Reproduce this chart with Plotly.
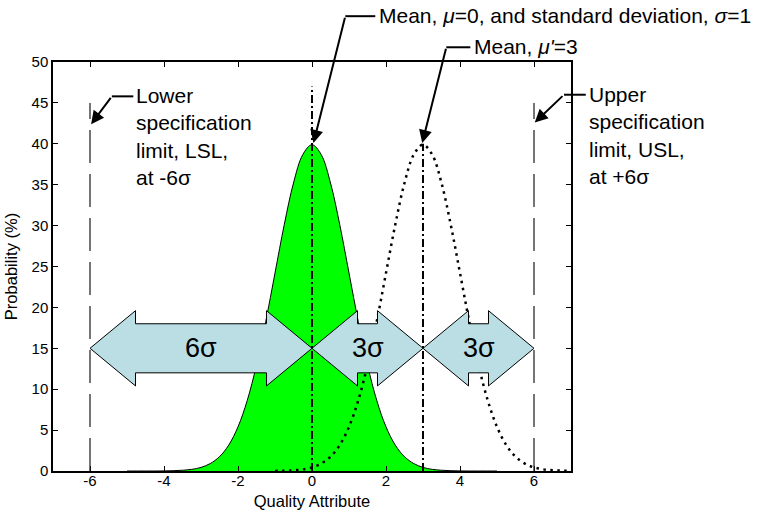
import plotly.graph_objects as go

# ---------------- data ----------------
# Normal curve, mean 0, sigma 1 (probability in %), sampled every 0.25
x_green = [-5.0, -4.75, -4.5, -4.25, -4.0, -3.75, -3.5, -3.25, -3.0, -2.75, -2.5,
           -2.25, -2.0, -1.75, -1.5, -1.25, -1.0, -0.75, -0.5, -0.25, 0.0,
           0.25, 0.5, 0.75, 1.0, 1.25, 1.5, 1.75, 2.0, 2.25, 2.5,
           2.75, 3.0, 3.25, 3.5, 3.75, 4.0, 4.25, 4.5, 4.75, 5.0]
y_green = [0.0, 0.0, 0.0, 0.0, 0.01, 0.04, 0.09, 0.2, 0.44, 0.91, 1.75,
           3.17, 5.4, 8.63, 12.95, 18.27, 24.2, 30.11, 35.21, 38.67, 39.89,
           38.67, 35.21, 30.11, 24.2, 18.27, 12.95, 8.63, 5.4, 3.17, 1.75,
           0.91, 0.44, 0.2, 0.09, 0.04, 0.01, 0.0, 0.0, 0.0, 0.0]

# Shifted curve, mean 3 (dotted)
x_dotted = [-1.0, -0.75, -0.5, -0.25, 0.0, 0.25, 0.5, 0.75, 1.0, 1.25, 1.5,
            1.75, 2.0, 2.25, 2.5, 2.75, 3.0, 3.25, 3.5, 3.75, 4.0,
            4.25, 4.5, 4.75, 5.0, 5.25, 5.5, 5.75, 6.0, 6.25, 6.5, 6.75, 7.0]
y_dotted = [0.01, 0.04, 0.09, 0.2, 0.44, 0.91, 1.75, 3.17, 5.4, 8.63, 12.95,
            18.27, 24.2, 30.11, 35.21, 38.67, 39.89, 38.67, 35.21, 30.11, 24.2,
            18.27, 12.95, 8.63, 5.4, 3.17, 1.75, 0.91, 0.44, 0.2, 0.09, 0.04, 0.01]

# Specification limits (dashed) and means (dash-dot)
spec_x = [-6, 6]
spec_top = [45, 45]
mean_x = [0, 3]
mean_top = [47, 40]

# Block double arrows
arrow_start = [-6, 0, 3]
arrow_end = [0, 3, 6]
arrow_label = ["6σ", "3σ", "3σ"]
arrow_level = 15

# Callouts: tip, elbow, end of horizontal segment, text anchor (data units)
callout_text = ["Lower<br>specification<br>limit, LSL,<br>at -6σ",
                "Upper<br>specification<br>limit, USL,<br>at +6σ",
                "Mean, <i>μ</i>=0, and standard deviation, <i>σ</i>=1",
                "Mean, <i>μ'</i>=3"]
tip_x = [-5.97, 6.02, 0.04, 2.98]
tip_y = [42.4, 42.6, 40.1, 40.1]
elbow_x = [-5.41, 6.81, 0.90, 3.63]
elbow_y = [45.8, 46.0, 55.6, 51.8]
hend_x = [-4.83, 7.40, 1.71, 4.28]
text_x = [-4.80, 7.44, 1.76, 4.32]

x_range = [-7, 7]
y_range = [0, 50]
x_ticks = [-6, -4, -2, 0, 2, 4, 6]
x_tick_text = ["-6", "-4", "-2", "0", "2", "4", "6"]

FONT = "Arial, Liberation Sans, sans-serif"


def px_(v):
    return (v - x_range[0]) / (x_range[1] - x_range[0])


def py_(v):
    return (v - y_range[0]) / (y_range[1] - y_range[0])


fig = go.Figure()

fig.add_trace(go.Scatter(
    x=x_green, y=y_green, mode="lines", fill="tozeroy",
    fillcolor="#00FF00", line=dict(color="black", width=1, shape="spline"),
    hoverinfo="skip", showlegend=False))

fig.add_trace(go.Scatter(
    x=x_dotted, y=y_dotted, mode="lines",
    line=dict(color="black", width=2.5, dash="2.5px,4.5px", shape="spline"),
    hoverinfo="skip", showlegend=False))

shapes = []
# block arrows
HEAD_LEN = 1.23
HEAD_HALF = 4.6
SHAFT_HALF = 3.0
for a, b in zip(arrow_start, arrow_end):
    c = arrow_level
    pts = [(a, c), (a + HEAD_LEN, c + HEAD_HALF), (a + HEAD_LEN, c + SHAFT_HALF),
           (b - HEAD_LEN, c + SHAFT_HALF), (b - HEAD_LEN, c + HEAD_HALF), (b, c),
           (b - HEAD_LEN, c - HEAD_HALF), (b - HEAD_LEN, c - SHAFT_HALF),
           (a + HEAD_LEN, c - SHAFT_HALF), (a + HEAD_LEN, c - HEAD_HALF)]
    path = "M " + " L ".join(f"{px},{py}" for px, py in pts) + " Z"
    shapes.append(dict(type="path", path=path, xref="x", yref="y",
                       fillcolor="#BADEE3", line=dict(color="black", width=1),
                       layer="above"))

# specification limits
for sx, st in zip(spec_x, spec_top):
    shapes.append(dict(type="line", xref="x", yref="y", x0=sx, x1=sx, y0=0, y1=st,
                       line=dict(color="#1a1a1a", width=1.2, dash="33px,11px"),
                       layer="above"))
# means
for mx, mt in zip(mean_x, mean_top):
    shapes.append(dict(type="line", xref="x", yref="y", x0=mx, x1=mx, y0=0, y1=mt,
                       line=dict(color="black", width=2, dash="8px,3px,2px,3px"),
                       layer="above"))

# horizontal callout segments (paper coords so they are not clipped)
for i in range(len(callout_text)):
    shapes.append(dict(type="line", xref="paper", yref="paper",
                       x0=px_(elbow_x[i]), x1=px_(hend_x[i]),
                       y0=py_(elbow_y[i]), y1=py_(elbow_y[i]),
                       line=dict(color="black", width=2), layer="above"))

annotations = []
for a, b, lab in zip(arrow_start, arrow_end, arrow_label):
    annotations.append(dict(x=(a + b) / 2, y=arrow_level, xref="x", yref="y",
                            text=lab, showarrow=False,
                            font=dict(family=FONT, size=27, color="black")))

for i in range(len(callout_text)):
    # diagonal with arrow head
    annotations.append(dict(x=tip_x[i], y=tip_y[i], xref="x", yref="y",
                            ax=elbow_x[i], ay=elbow_y[i], axref="x", ayref="y",
                            text="", showarrow=True, arrowhead=2, arrowsize=1.3,
                            arrowwidth=2, arrowcolor="black", standoff=0,
                            startstandoff=0))
    # text: first line centred on the horizontal segment
    annotations.append(dict(x=px_(text_x[i]), y=py_(elbow_y[i]),
                            xref="paper", yref="paper",
                            text=callout_text[i], showarrow=False,
                            xanchor="left", yanchor="top", align="left",
                            yshift=14,
                            font=dict(family=FONT, size=21, color="black")))

fig.update_layout(
    width=761, height=510,
    margin=dict(l=53, r=190, t=62, b=39),
    paper_bgcolor="white", plot_bgcolor="white",
    shapes=shapes, annotations=annotations,
    font=dict(family=FONT, color="black"),
    showlegend=False,
)

fig.update_xaxes(
    range=x_range, tickvals=x_ticks, ticktext=x_tick_text,
    ticks="inside", ticklen=5, automargin=False,
    tickcolor="black", showline=True, linecolor="black", linewidth=1.5,
    mirror="ticks", showgrid=False, zeroline=False, ticklabelstandoff=-5,
    tickfont=dict(family=FONT, size=15, color="black"),
    title=dict(text="Quality Attribute", font=dict(family=FONT, size=16.5, color="black"),
               standoff=16),
)
fig.update_yaxes(
    range=y_range, dtick=5, ticks="inside", ticklen=5, automargin=False,
    tickcolor="black", showline=True, linecolor="black", linewidth=1.5,
    mirror="ticks", showgrid=False, zeroline=False,
    tickfont=dict(family=FONT, size=15, color="black"),
    title=dict(text="Probability (%)", font=dict(family=FONT, size=16.5, color="black"),
               standoff=10),
)

fig.write_html("out.html")
